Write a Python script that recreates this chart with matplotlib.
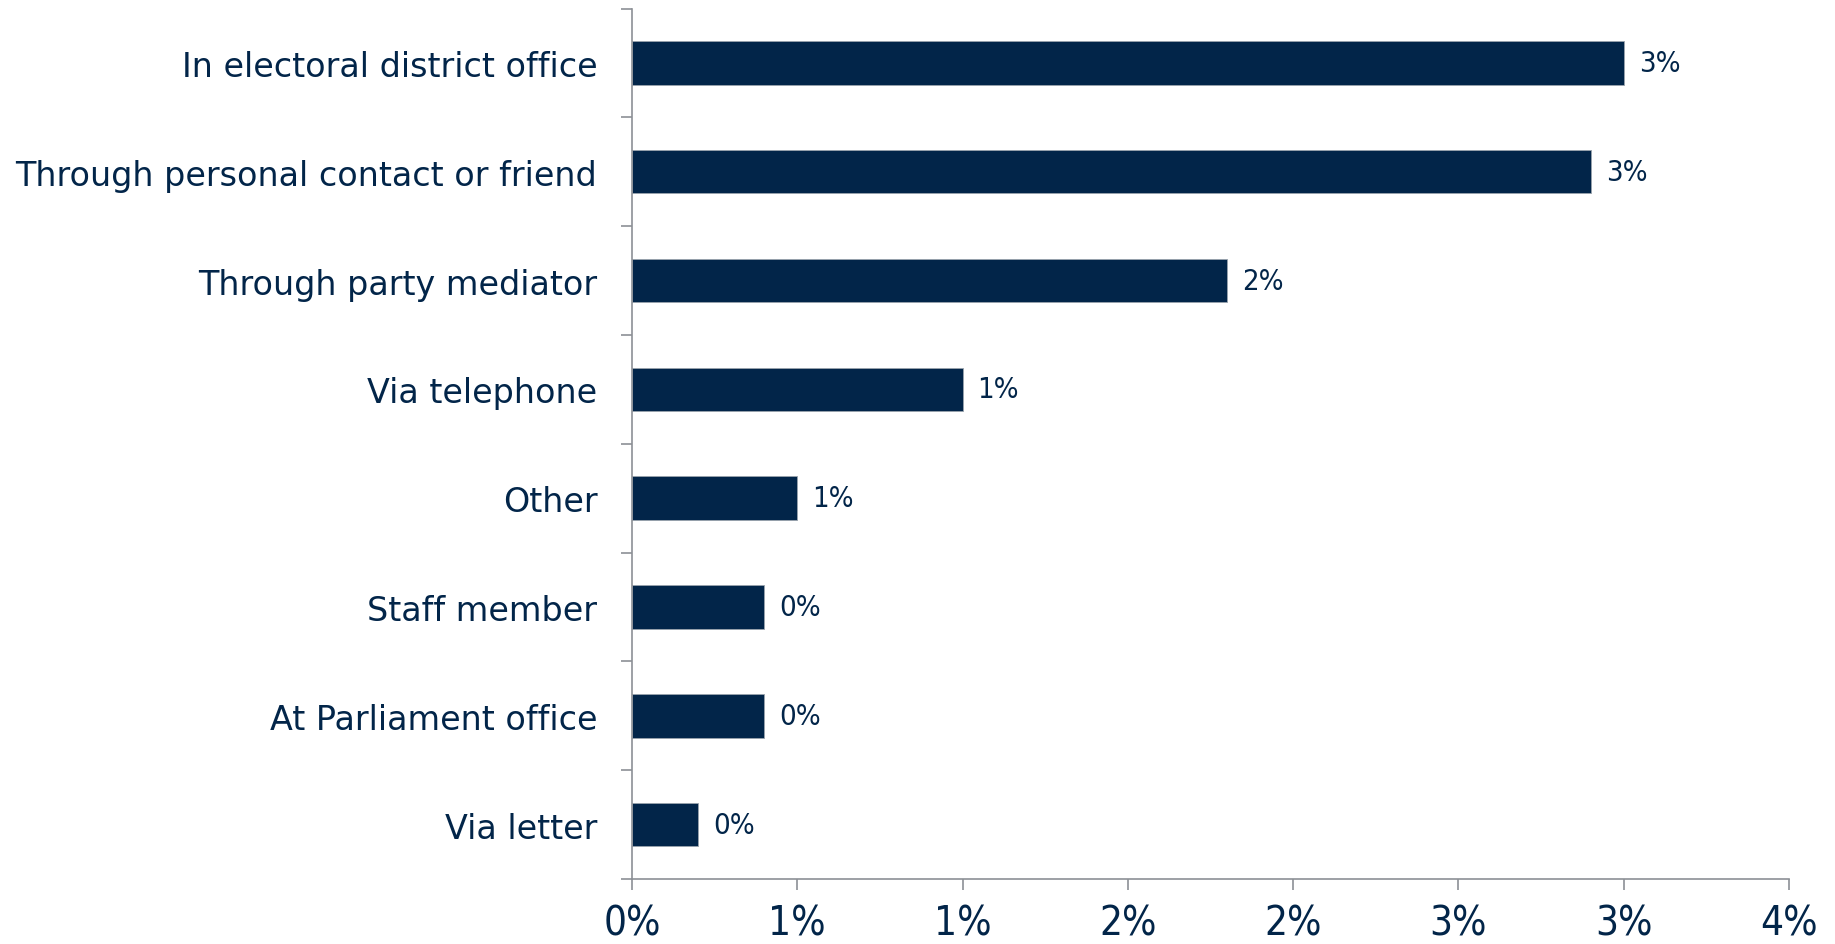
import matplotlib
matplotlib.use("Agg")
import matplotlib.pyplot as plt

categories = ["In electoral district office", "Through personal contact or friend",
              "Through party mediator", "Via telephone", "Other", "Staff member",
              "At Parliament office", "Via letter"]
values = [3.0, 2.9, 1.8, 1.0, 0.5, 0.4, 0.4, 0.2]
value_labels = ["3%", "3%", "2%", "1%", "1%", "0%", "0%", "0%"]
xticks = [0, 0.5, 1.0, 1.5, 2.0, 2.5, 3.0, 3.5]
xtick_labels = ["0%", "1%", "1%", "2%", "2%", "3%", "3%", "4%"]

navy = "#022549"
axis_gray = "#8C9096"

fig = plt.figure(figsize=(18.35, 9.45), dpi=100)
ax = fig.add_axes([632/1835, 1-880/945, (1789-632)/1835, (880-9.5)/945])

y = list(range(len(categories)))
ax.barh(y, values, height=0.4, color=navy, edgecolor="#9aa3ad", linewidth=0.6)
ax.set_ylim(len(categories)-0.5, -0.5)
ax.set_xlim(0, 3.5)

for yi, v, lab in zip(y, values, value_labels):
    ax.annotate(lab, (v, yi), xytext=(15, 0), textcoords="offset pixels",
                va="center", ha="left", fontsize=21, color=navy,
                family="DejaVu Sans", fontstretch="condensed")

ax.set_yticks([i - 0.5 for i in range(len(categories)+1)], minor=False)
ax.set_yticklabels([])
ax.set_yticks(y, minor=True)
ax.set_yticklabels(categories, minor=True, fontsize=24, color=navy)
ax.tick_params(axis="y", which="minor", length=0, pad=25)
ax.tick_params(axis="y", which="major", length=8, width=1.2, color=axis_gray, direction="out")

ax.set_xticks(xticks)
ax.set_xticklabels(xtick_labels, fontsize=29, color=navy, fontstretch="condensed")
ax.tick_params(axis="x", length=8, width=1.2, color=axis_gray, direction="out", pad=10)

for s in ["top", "right"]:
    ax.spines[s].set_visible(False)
for s in ["left", "bottom"]:
    ax.spines[s].set_color(axis_gray)
    ax.spines[s].set_linewidth(1.2)

fig.savefig("out.png", dpi=100, facecolor="white")
